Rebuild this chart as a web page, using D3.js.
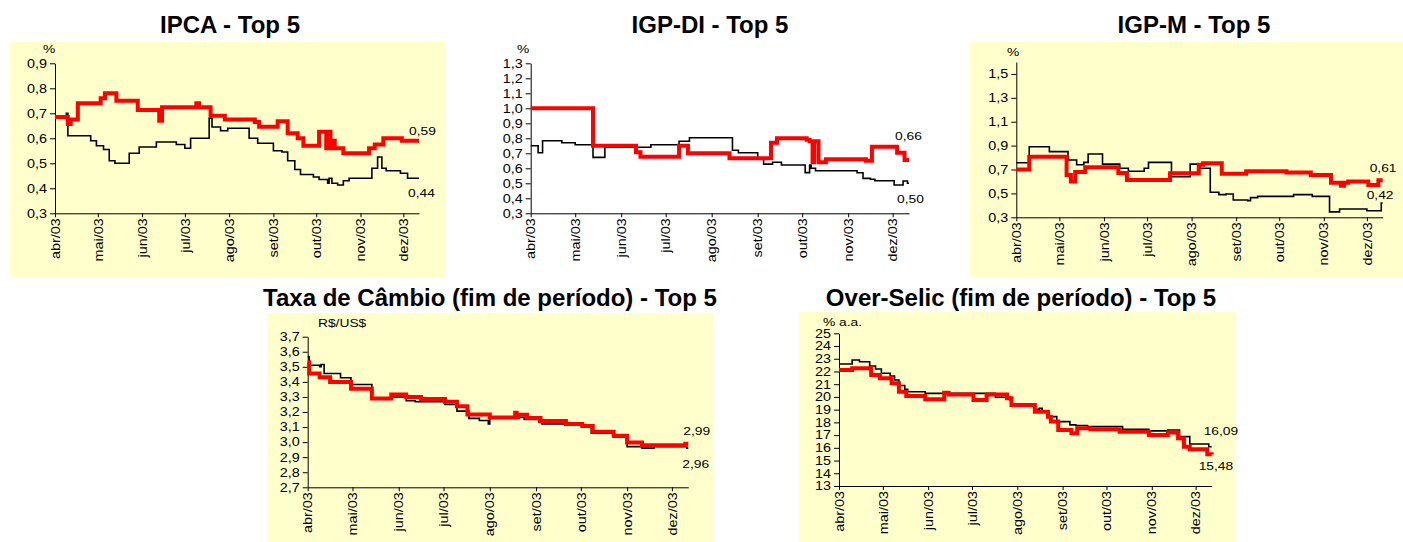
<!DOCTYPE html>
<html>
<head>
<meta charset="utf-8">
<script src="https://cdn.jsdelivr.net/npm/d3@7"></script>
<style>
	body { margin: 0; background: #fff; }
	svg { display: block; font-family: "Liberation Sans", Arial, sans-serif; }
	.titulo { font-size: 24px; font-weight: bold; fill: #000; }
	.eixo text { font-size: 12px; fill: #000; font-family: "Liberation Sans", Arial, sans-serif; }
	.eixo path, .eixo line { stroke: #000; }
	.unidade, .rotulo { font-size: 11.5px; fill: #000; }
</style>
</head>
<body>
<svg id="graf" width="1403" height="542"></svg>
<script>
	// dias contados a partir de 1/abr/2003 ; [dia, valor]
	var monthLabels = ["abr/03", "mai/03", "jun/03", "jul/03", "ago/03", "set/03", "out/03", "nov/03", "dez/03"];
	var ultimoDia = 255;

	var ipcaRed = [[0,0.685],[9,0.657],[11,0.675],[16,0.74],[32,0.76],[35,0.78],[43,0.75],[58,0.713],[73,0.67],[75,0.724],[99,0.74],[101,0.724],[109,0.69],[119,0.675],[140,0.665],[143,0.646],[156,0.668],[163,0.62],[170,0.60],[174,0.57],[185,0.626],[190,0.56],[191,0.626],[193,0.56],[194,0.59],[196,0.56],[202,0.54],[220,0.56],[224,0.575],[230,0.60],[243,0.59],[255,0.59]];
	var ipcaBlack = [[0,0.685],[8,0.70],[9,0.61],[25,0.59],[29,0.57],[34,0.555],[38,0.51],[42,0.50],[52,0.54],[59,0.565],[71,0.585],[85,0.575],[91,0.56],[95,0.60],[108,0.68],[110,0.645],[116,0.63],[121,0.64],[136,0.60],[142,0.58],[153,0.55],[159,0.545],[163,0.51],[168,0.475],[172,0.455],[181,0.445],[185,0.435],[191,0.42],[192,0.44],[194,0.42],[198,0.413],[202,0.43],[206,0.44],[222,0.48],[226,0.525],[229,0.48],[232,0.47],[242,0.46],[247,0.44],[255,0.44]];

	var igpdiRed = [[0,1.0],[42,0.75],[71,0.707],[74,0.677],[100,0.75],[106,0.70],[134,0.667],[162,0.77],[166,0.80],[186,0.79],[188,0.78],[190,0.64],[191,0.78],[194,0.64],[199,0.66],[226,0.65],[230,0.744],[247,0.704],[252,0.655],[255,0.655]];
	var igpdiBlack = [[0,0.75],[5,0.704],[8,0.784],[21,0.77],[30,0.757],[42,0.673],[50,0.74],[81,0.757],[100,0.78],[107,0.804],[136,0.72],[140,0.704],[153,0.66],[157,0.628],[163,0.64],[169,0.622],[185,0.571],[188,0.622],[189,0.60],[192,0.584],[220,0.57],[224,0.533],[229,0.527],[232,0.517],[245,0.489],[251,0.515],[254,0.50],[255,0.50]];

	var igpmRed = [[0,0.70],[9,0.807],[35,0.654],[38,0.60],[41,0.68],[48,0.72],[71,0.67],[77,0.612],[107,0.668],[127,0.74],[130,0.752],[143,0.665],[160,0.685],[188,0.675],[205,0.655],[219,0.59],[226,0.565],[228,0.59],[231,0.60],[245,0.57],[252,0.61],[255,0.61]];
	var igpmBlack = [[0,0.757],[9,0.89],[23,0.85],[36,0.78],[42,0.74],[47,0.76],[50,0.83],[60,0.745],[72,0.71],[78,0.685],[89,0.71],[92,0.76],[108,0.64],[121,0.745],[128,0.71],[135,0.51],[141,0.49],[146,0.495],[151,0.445],[161,0.44],[163,0.465],[168,0.475],[193,0.49],[206,0.475],[218,0.345],[225,0.37],[244,0.355],[254,0.42],[255,0.42]];

	var cambioRed = [[0,3.53],[1,3.456],[8,3.43],[15,3.40],[29,3.355],[43,3.29],[56,3.317],[66,3.30],[76,3.287],[92,3.268],[100,3.238],[107,3.184],[122,3.163],[139,3.195],[140,3.165],[141,3.182],[147,3.16],[156,3.14],[173,3.12],[184,3.107],[191,3.069],[205,3.042],[214,2.998],[224,2.98],[253,2.99],[255,2.99]];
	var cambioBlack = [[0,3.567],[1,3.51],[8,3.50],[9,3.515],[11,3.456],[22,3.427],[29,3.383],[43,3.29],[56,3.30],[66,3.275],[72,3.268],[92,3.25],[100,3.206],[108,3.158],[115,3.144],[121,3.12],[122,3.165],[145,3.15],[155,3.13],[157,3.12],[173,3.115],[190,3.06],[205,3.035],[214,2.97],[224,2.96],[232,2.97],[254,2.96],[255,2.96]];

	var selicRed = [[0,22.12],[9,22.25],[22,21.73],[28,21.47],[36,21.08],[41,20.4],[46,20.07],[59,19.81],[72,20.33],[75,20.2],[92,19.76],[101,20.2],[115,19.89],[118,19.37],[134,18.84],[143,18.45],[145,18.06],[150,17.40],[159,17.14],[163,17.53],[172,17.46],[192,17.27],[212,17.01],[225,17.2],[232,16.76],[236,16.09],[240,15.88],[252,15.5],[255,15.48]];
	var selicBlack = [[0,22.59],[9,22.9],[14,22.77],[21,22.43],[25,22.2],[29,21.86],[35,21.65],[38,21.33],[41,20.9],[45,20.6],[47,20.41],[59,20.28],[107,19.97],[117,19.76],[118,19.37],[134,19.03],[137,19.1],[139,18.85],[143,18.45],[149,18.06],[158,17.8],[162,17.75],[170,17.67],[194,17.46],[212,17.33],[225,17.4],[233,16.88],[240,16.30],[253,16.09],[255,16.09]];

	var ipcaTicks = [0.3, 0.4, 0.5, 0.6, 0.7, 0.8, 0.9];
	var igpdiTicks = [0.3, 0.4, 0.5, 0.6, 0.7, 0.8, 0.9, 1.0, 1.1, 1.2, 1.3];
	var igpmTicks = [0.3, 0.5, 0.7, 0.9, 1.1, 1.3, 1.5];
	var cambioTicks = [2.7, 2.8, 2.9, 3.0, 3.1, 3.2, 3.3, 3.4, 3.5, 3.6, 3.7];
	var selicTicks = [13, 14, 15, 16, 17, 18, 19, 20, 21, 22, 23, 24, 25];

	// layout de cada painel
	var paineis = [
		{titulo: "IPCA - Top 5", tx: 230, ty: 33, unidade: "%", ux: 43, uy: 53,
		 fundo: [10, 42, 436, 235], esq: 55, dir: 419, topo: 63.3, base: 213.3,
		 dominio: [0.3, 0.9], ticks: ipcaTicks, casas: 1, verm: ipcaRed, preto: ipcaBlack,
		 rv: [-10, -6], rp: [-11, 19]},
		{titulo: "IGP-DI - Top 5", tx: 710, ty: 33, unidade: "%", ux: 517, uy: 53,
		 fundo: null, esq: 530.7, dir: 909, topo: 63.3, base: 213.3,
		 dominio: [0.3, 1.3], ticks: igpdiTicks, casas: 1, verm: igpdiRed, preto: igpdiBlack,
		 rv: [-14, -20], rp: [-12, 20]},
		{titulo: "IGP-M - Top 5", tx: 1194, ty: 33, unidade: "%", ux: 1007, uy: 56,
		 fundo: [970, 42, 433, 235], esq: 1016.3, dir: 1382.7, topo: 62, base: 217.3,
		 dominio: [0.3, 1.6], ticks: igpmTicks, casas: 1, verm: igpmRed, preto: igpmBlack,
		 rv: [-13, -8], rp: [-16, -4]},
		{titulo: "Taxa de Câmbio (fim de período) - Top 5", tx: 490, ty: 306, unidade: "R$/US$", ux: 318, uy: 327,
		 fundo: [267, 313, 447, 229], esq: 307.7, dir: 688.3, topo: 336.7, base: 487.3,
		 dominio: [2.7, 3.7], ticks: cambioTicks, casas: 1, verm: cambioRed, preto: cambioBlack,
		 rv: [-5, -9], rp: [-6, 20]},
		{titulo: "Over-Selic (fim de período) - Top 5", tx: 1021, ty: 306, unidade: "% a.a.", ux: 823, uy: 325.5,
		 fundo: [799, 312, 437, 230], esq: 839, dir: 1211.7, topo: 333.3, base: 486,
		 dominio: [13, 25], ticks: selicTicks, casas: 0, verm: selicRed, preto: selicBlack,
		 rv: [-13, 15.5], rp: [-8, -12]}
	];

	var svg = d3.select("#graf");
	var inicio = new Date(2003, 3, 1);
	function dia(n) { return d3.timeDay.offset(inicio, n); }
	var meses = monthLabels.map(function(m, i) { return new Date(2003, 3 + i, 1); });
	function virgula(casas) {
		return function(v) { return d3.format("." + casas + "f")(v).replace(".", ","); };
	}

	paineis.forEach(function(p) {
		var g = svg.append("g");

		if (p.fundo) {
			g.append("rect")
				.attr("x", p.fundo[0]).attr("y", p.fundo[1])
				.attr("width", p.fundo[2]).attr("height", p.fundo[3])
				.attr("fill", "#FFFFCC");
		}

		g.append("text")
			.attr("class", "titulo")
			.attr("x", p.tx).attr("y", p.ty)
			.attr("text-anchor", "middle")
			.text(p.titulo);

		var x = d3.scaleTime()
			.domain([inicio, dia(ultimoDia)])
			.range([p.esq, p.dir]);

		var y = d3.scaleLinear()
			.domain(p.dominio)
			.range([p.base, p.topo]);

		var yAxis = d3.axisLeft(y)
			.tickValues(p.ticks)
			.tickSize(5)
			.tickSizeOuter(0)
			.tickFormat(virgula(p.casas));

		var gy = g.append("g")
			.attr("class", "eixo")
			.attr("transform", "translate(" + p.esq + ",0)")
			.call(yAxis);
		gy.selectAll(".tick text")
			.attr("x", -8 / 1.2)
			.attr("transform", "scale(1.2,1)");

		var xAxis = d3.axisBottom(x)
			.tickValues(meses)
			.tickSize(4)
			.tickSizeOuter(0)
			.tickFormat(function(d, i) { return monthLabels[i]; });

		var gx = g.append("g")
			.attr("class", "eixo")
			.attr("transform", "translate(0," + p.base + ")")
			.call(xAxis);
		gx.selectAll(".tick text")
			.attr("text-anchor", "end")
			.attr("x", -5 / 1.2)
			.attr("y", 0)
			.attr("dy", "0.35em")
			.attr("transform", "rotate(-90) scale(1.2,1)");

		g.append("text")
			.attr("class", "unidade")
			.attr("transform", "translate(" + p.ux + "," + p.uy + ") scale(1.2,1)")
			.text(p.unidade);

		var linha = d3.line()
			.curve(d3.curveStepAfter)
			.x(function(d) { return x(dia(d[0])); })
			.y(function(d) { return y(d[1]); });

		g.append("path")
			.datum(p.preto)
			.attr("d", linha)
			.attr("fill", "none")
			.attr("stroke", "#000")
			.attr("stroke-width", 1.6);

		g.append("path")
			.datum(p.verm)
			.attr("d", linha)
			.attr("fill", "none")
			.attr("stroke", "#FF0000")
			.attr("stroke-width", 4);

		var fmt2 = function(v) { return d3.format(".2f")(v).replace(".", ","); };
		var ultV = p.verm[p.verm.length - 1];
		var ultP = p.preto[p.preto.length - 1];

		g.append("text")
			.attr("class", "rotulo")
			.attr("transform", "translate(" + (x(dia(ultV[0])) + p.rv[0]) + "," + (y(ultV[1]) + p.rv[1]) + ") scale(1.2,1)")
			.text(fmt2(ultV[1]));

		g.append("text")
			.attr("class", "rotulo")
			.attr("transform", "translate(" + (x(dia(ultP[0])) + p.rp[0]) + "," + (y(ultP[1]) + p.rp[1]) + ") scale(1.2,1)")
			.text(fmt2(ultP[1]));
	});
</script>
</body>
</html>
